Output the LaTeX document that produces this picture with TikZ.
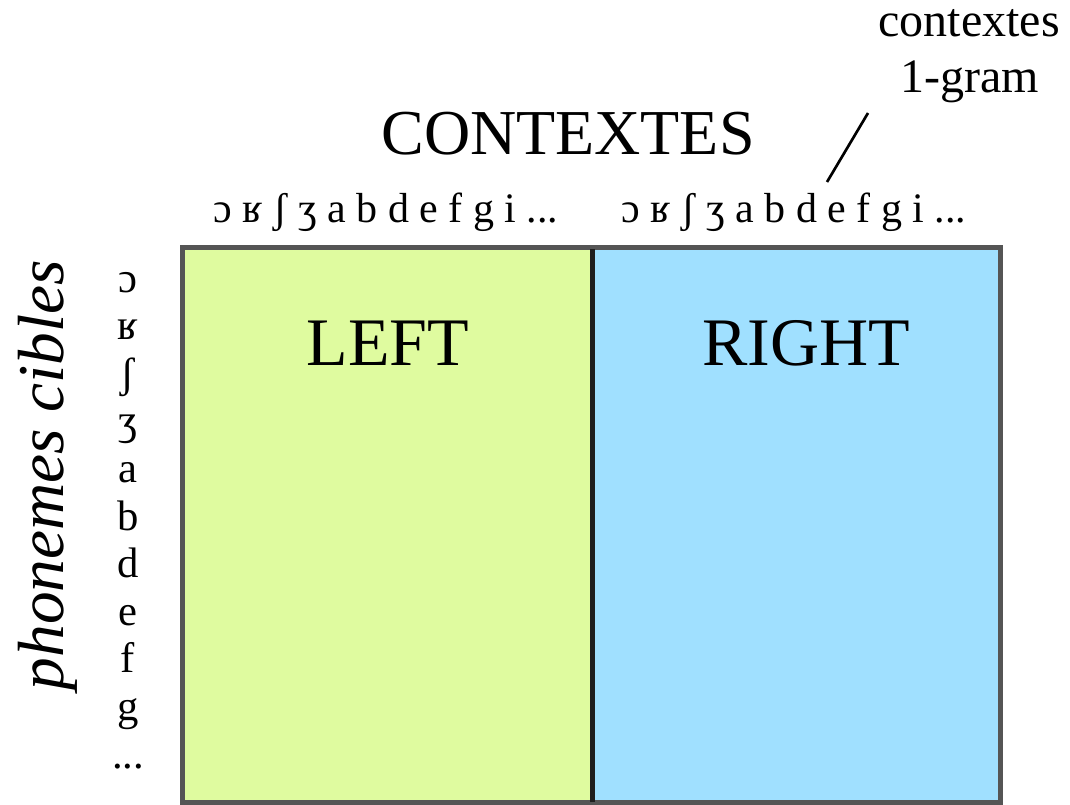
\documentclass[tikz,border=0pt]{standalone}
\usepackage{fontspec}
\setmainfont{Liberation Serif}
\definecolor{leftgreen}{RGB}{223,251,159}
\definecolor{rightblue}{RGB}{160,224,255}
\definecolor{framegrey}{RGB}{85,85,85}
\definecolor{dividerdark}{RGB}{30,30,30}
\begin{document}
\begin{tikzpicture}[x=0.75pt,y=-0.75pt,
  title/.style={anchor=base, inner sep=0pt, font=\fontsize{48}{56}\selectfont},
  panellabel/.style={anchor=base, inner sep=0pt, font=\fontsize{51}{60}\selectfont},
  symrow/.style={anchor=base, inner sep=0pt, font=\fontsize{31.5}{38}\selectfont},
  symcol/.style={anchor=base, inner sep=0pt, font=\fontsize{32}{38}\selectfont},
  note/.style={anchor=base, inner sep=0pt, font=\fontsize{36}{43}\selectfont},
  axislabel/.style={rotate=90, inner sep=0pt, font=\itshape\fontsize{49}{58}\selectfont}]
\useasboundingbox (0,0) rectangle (1070,804);

% the two panels of the matrix
\fill[leftgreen] (182.5,247.5) rectangle (592.5,802);
\fill[rightblue] (592.5,247.5) rectangle (1000.5,802);
\draw[framegrey, line width=3.75pt] (182.5,247.5) rectangle (1000.5,802);
\draw[dividerdark, line width=3.75pt] (592.5,249) -- (592.5,802);

\node[panellabel] (left) at (388,365) {LEFT};
\node[panellabel] (right) at (806,365) {RIGHT};

% context symbols along the top
\node[title] (contextes) at (568,154) {CONTEXTES};
\node[symrow] (ctxL) at (386,222) {ɔ ʁ ʃ ʒ a b d e f g i ...};
\node[symrow] (ctxR) at (794,222) {ɔ ʁ ʃ ʒ a b d e f g i ...};

% annotation for the one-symbol contexts
\node[note] (noteA) at (969,36) {contextes};
\node[note] (noteB) at (970,92) {1-gram};
\coordinate (tickTop) at (868,113);
\coordinate (tickBot) at (827,182);
\draw[line width=2pt] (tickTop) -- (tickBot);

% target phonemes down the side
\foreach \s [count=\i from 0] in {ɔ,ʁ,ʃ,ʒ,a,b,d,e,f,g}
  \node[symcol] (tgt\i) at (128,{292+47.6*\i}) {\s};
\node[symcol] (tgt10) at (128,768) {...};

\node[axislabel] (cibles) at (48,475) {phonemes cibles};
\end{tikzpicture}
\end{document}
